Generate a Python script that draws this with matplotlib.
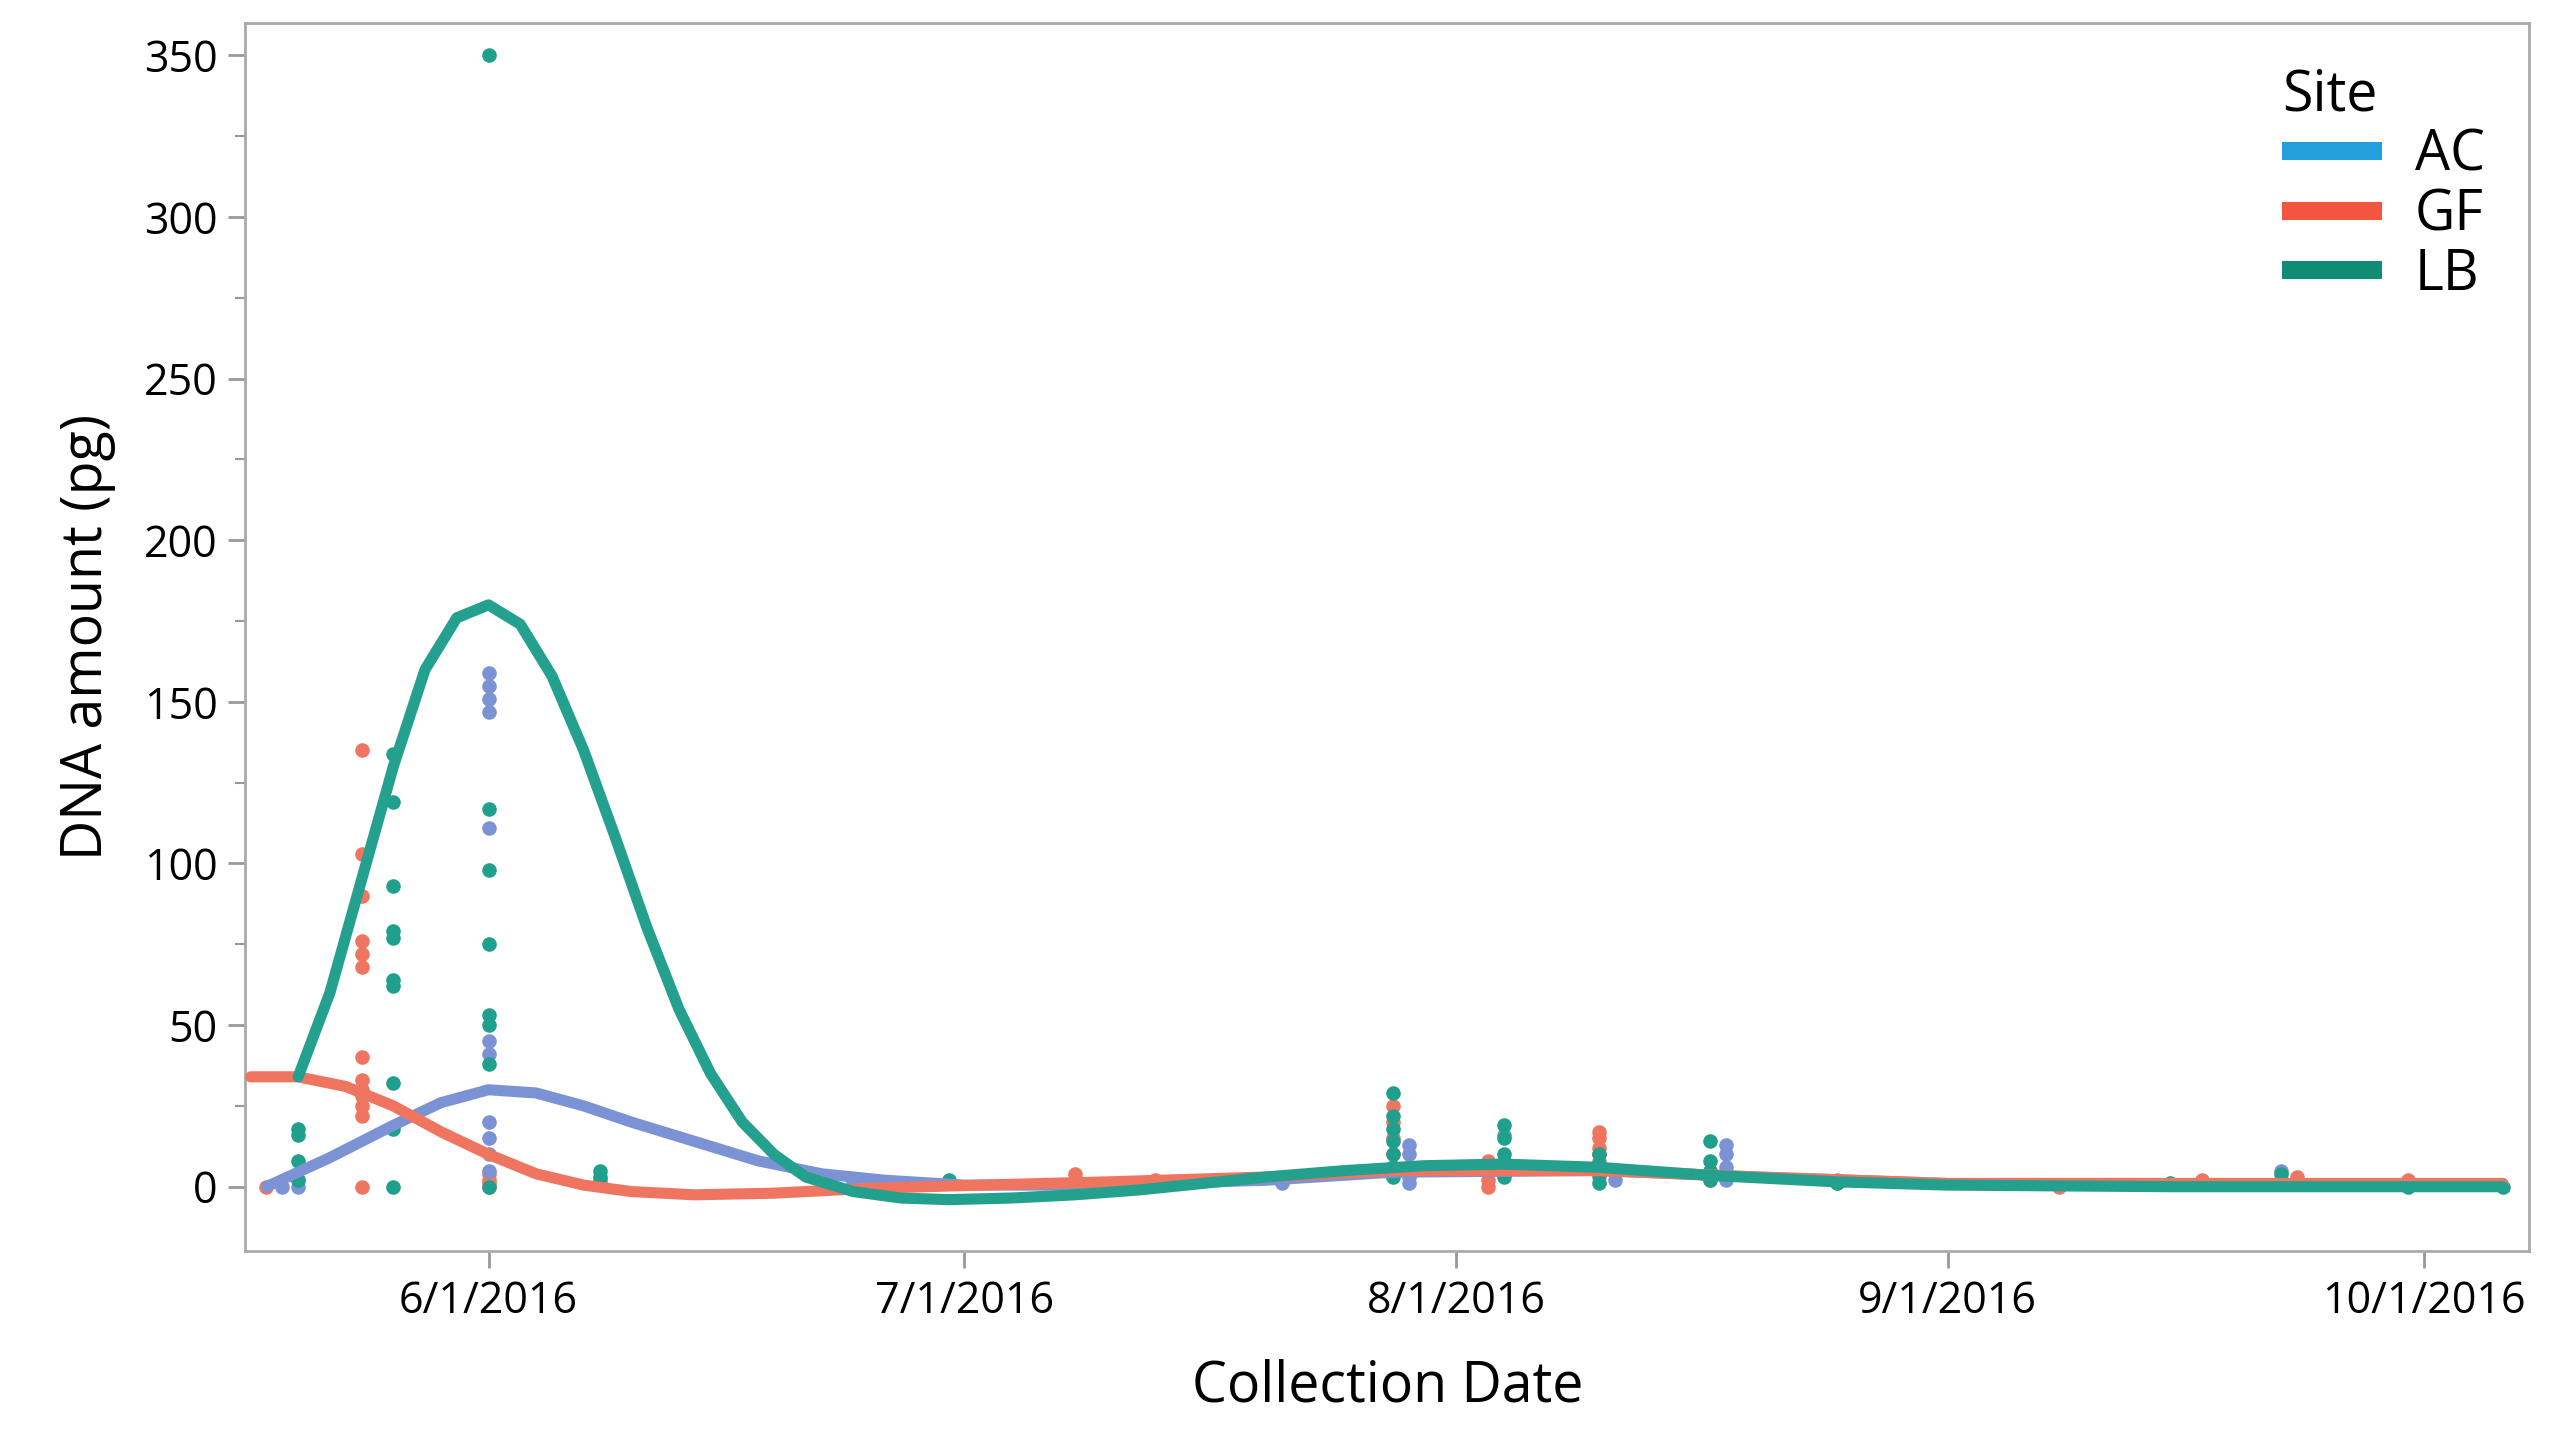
import matplotlib
matplotlib.use('Agg')
import matplotlib.pyplot as plt
import matplotlib.dates as mdates
from matplotlib.ticker import MultipleLocator
import pandas as pd

plt.rcParams['font.family'] = ['Open Sans', 'DejaVu Sans']

# scatter points: date -> values
gf_points = {
    '2016-05-18': [0],
    '2016-05-24': [135, 103, 90, 76, 72, 68, 40, 33, 30, 28, 25, 22, 0],
    '2016-06-01': [4, 2, 1, 0],
    '2016-06-08': [2, 1],
    '2016-06-24': [2],
    '2016-07-08': [4, 2],
    '2016-07-13': [2],
    '2016-07-28': [25, 20, 15, 10, 5],
    '2016-08-03': [8, 5, 2, 0],
    '2016-08-10': [17, 15, 12, 10, 8, 5, 3],
    '2016-08-17': [5, 2],
    '2016-09-08': [0],
    '2016-09-17': [2],
    '2016-09-23': [3, 1],
    '2016-09-30': [2],
}
ac_points = {
    '2016-05-19': [0],
    '2016-05-20': [0, 2],
    '2016-06-01': [159, 155, 151, 147, 111, 45, 41, 20, 15, 10, 5],
    '2016-06-24': [1],
    '2016-07-13': [1],
    '2016-07-21': [1],
    '2016-07-29': [13, 10, 6, 3, 1],
    '2016-08-04': [16, 8, 4],
    '2016-08-11': [5, 2],
    '2016-08-18': [13, 10, 6, 2],
    '2016-08-25': [1, 2],
    '2016-09-22': [5, 2],
}
lb_points = {
    '2016-05-20': [18, 16, 8, 2],
    '2016-05-26': [134, 119, 93, 79, 77, 64, 62, 32, 18, 0],
    '2016-06-01': [350, 117, 98, 75, 53, 50, 38, 0],
    '2016-06-08': [5, 3],
    '2016-06-30': [2],
    '2016-07-28': [29, 22, 18, 14, 10, 6, 3],
    '2016-08-04': [19, 15, 10, 6, 3],
    '2016-08-10': [10, 7, 4, 1],
    '2016-08-17': [14, 8, 5, 2],
    '2016-08-25': [1],
    '2016-09-15': [1],
    '2016-09-22': [4, 1],
    '2016-09-30': [0],
    '2016-10-06': [0],
}

# smoothing curves
lb_curve_dates = ['2016-05-20', '2016-05-22', '2016-05-24', '2016-05-26', '2016-05-28', '2016-05-30',
                  '2016-06-01', '2016-06-03', '2016-06-05', '2016-06-07', '2016-06-09', '2016-06-11',
                  '2016-06-13', '2016-06-15', '2016-06-17', '2016-06-19', '2016-06-21', '2016-06-24',
                  '2016-06-27', '2016-06-30', '2016-07-04', '2016-07-08', '2016-07-12', '2016-07-16',
                  '2016-07-20', '2016-07-25', '2016-07-30', '2016-08-04', '2016-08-10', '2016-08-17',
                  '2016-08-25', '2016-09-01', '2016-09-15', '2016-10-06']
lb_curve = [34, 60, 95, 130, 160, 176, 180, 174, 158, 135, 108, 80, 55, 35, 20, 10, 3, -1.5, -3.5, -4, -3.5,
            -2.5, -1, 1, 3, 5, 6.5, 7, 6, 3.5, 1.5, 0.5, 0, 0]
ac_curve_dates = ['2016-05-18', '2016-05-22', '2016-05-26', '2016-05-29', '2016-06-01', '2016-06-04',
                  '2016-06-07', '2016-06-10', '2016-06-14', '2016-06-18', '2016-06-22', '2016-06-26',
                  '2016-07-01', '2016-07-10', '2016-07-20', '2016-07-28', '2016-08-10', '2016-08-20',
                  '2016-09-01', '2016-10-06']
ac_curve = [0, 9, 19, 26, 30, 29, 25, 20, 14, 8, 4, 2, 0.5, 0.5, 2, 4.5, 5, 3, 1, 1]
gf_curve_dates = ['2016-05-17', '2016-05-20', '2016-05-23', '2016-05-26', '2016-05-29', '2016-06-01',
                  '2016-06-04', '2016-06-07', '2016-06-10', '2016-06-14', '2016-06-19', '2016-06-25',
                  '2016-07-02', '2016-07-10', '2016-07-20', '2016-07-28', '2016-08-10', '2016-08-20',
                  '2016-09-01', '2016-10-06']
gf_curve = [34, 34, 31, 25, 17, 10, 4, 0.5, -1.5, -2.5, -2, -0.5, 0.5, 1.5, 3, 5, 5, 3, 1, 1]

pt_colors = {'AC': '#7b93d4', 'GF': '#f07561', 'LB': '#1fa08c'}
line_colors = {'AC': '#7b93d4', 'GF': '#f07561', 'LB': '#23a08e'}
legend_colors = {'AC': '#23a0dc', 'GF': '#f2563e', 'LB': '#0e8c76'}

fig = plt.figure(figsize=(25.55, 14.4), dpi=100)
ax = fig.add_axes([0.096, 0.131, 0.894, 0.853])

for name, pts in [('GF', gf_points), ('AC', ac_points), ('LB', lb_points)]:
    for d, vals in pts.items():
        ax.scatter([pd.Timestamp(d)] * len(vals), vals, s=110, color=pt_colors[name], zorder=3, linewidths=0)

for name, ds, vs in [('AC', ac_curve_dates, ac_curve), ('GF', gf_curve_dates, gf_curve),
                     ('LB', lb_curve_dates, lb_curve)]:
    ax.plot(pd.to_datetime(ds), vs, color=line_colors[name], lw=8, zorder=4,
            solid_capstyle='round', solid_joinstyle='round')

for name in ['AC', 'GF', 'LB']:
    ax.plot([], [], color=legend_colors[name], lw=13, label=name, solid_capstyle='butt')

ax.set_xlim(pd.Timestamp('2016-05-16 16:00'), pd.Timestamp('2016-10-07 16:00'))
ax.set_ylim(-20, 360)
ax.yaxis.set_major_locator(MultipleLocator(50))
ax.yaxis.set_minor_locator(MultipleLocator(25))
ax.xaxis.set_major_locator(mdates.MonthLocator(bymonth=[6, 7, 8, 9, 10]))
ax.xaxis.set_major_formatter(mdates.DateFormatter('%-m/%-d/%Y'))
ax.tick_params(axis='both', which='major', labelsize=31, length=12, width=2, color='#999999', pad=8)
ax.tick_params(axis='both', which='minor', length=7, width=1.5, color='#999999')
for s in ax.spines.values():
    s.set_color('#aaaaaa')
    s.set_linewidth(2)

ax.set_xlabel('Collection Date', fontsize=40, labelpad=25)
ax.set_ylabel('DNA amount (pg)', fontsize=40, labelpad=20)

leg = ax.legend(title='Site', loc='upper right', frameon=False, fontsize=40, title_fontsize=40,
                handlelength=1.8, handletextpad=0.6, labelspacing=0.05, borderaxespad=0.4)
leg._legend_box.align = 'left'

fig.savefig('out.png', dpi=100)
